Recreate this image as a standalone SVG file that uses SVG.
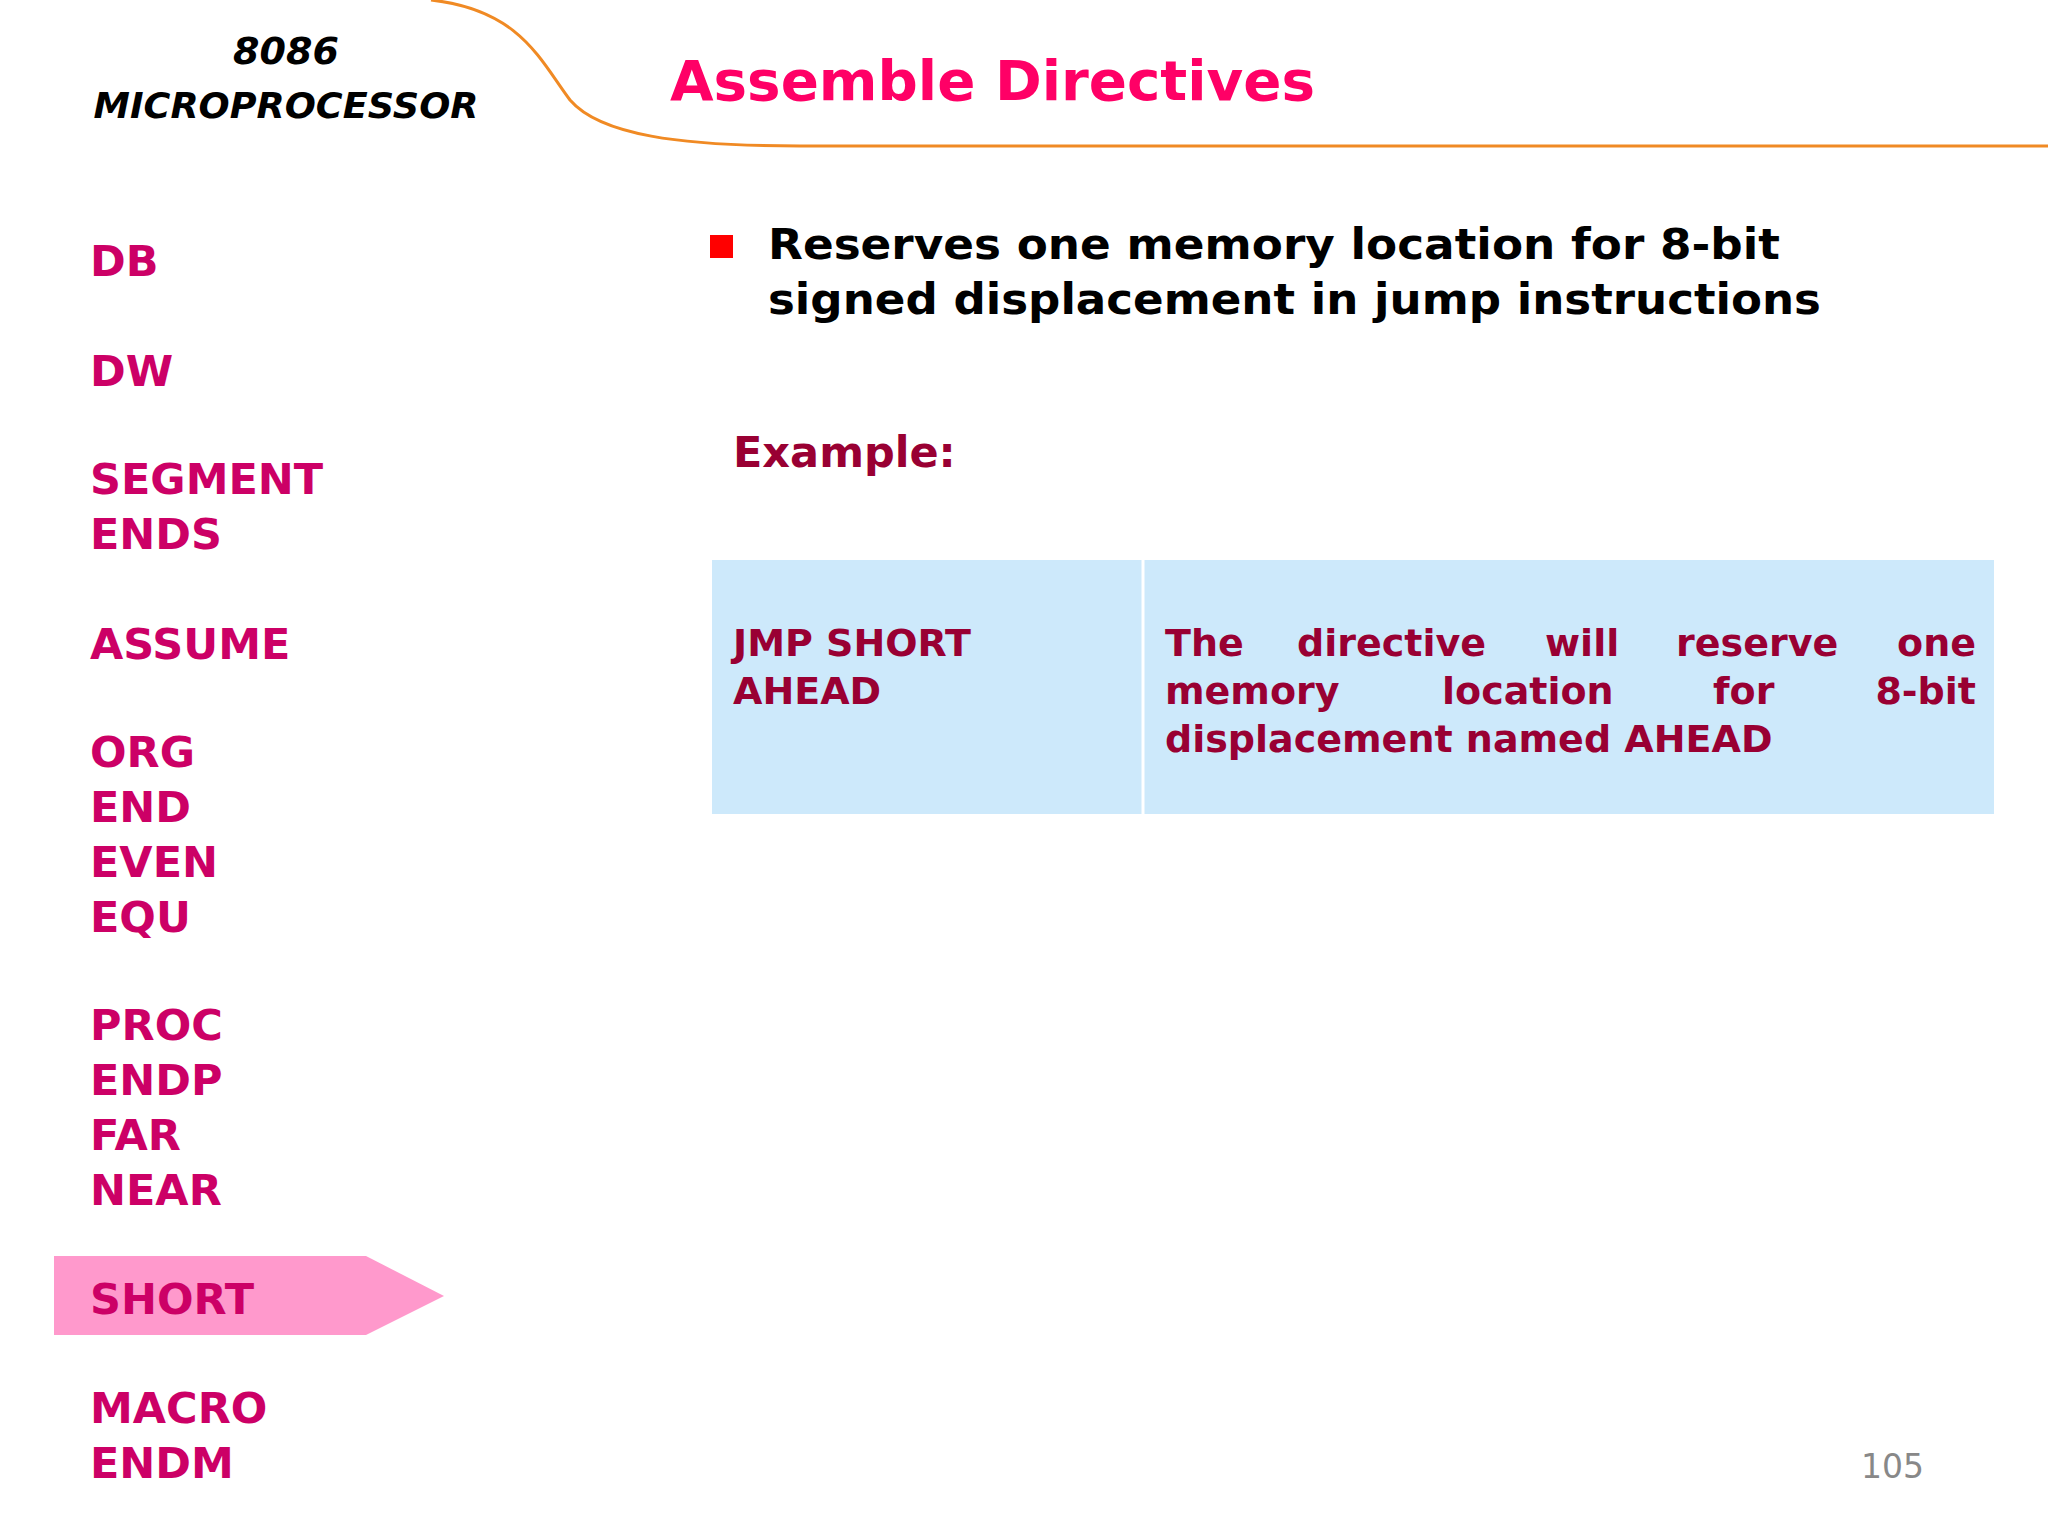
<svg xmlns="http://www.w3.org/2000/svg" width="2048" height="1536" viewBox="0 0 2048 1536">
<style>
.m{font-family:"DejaVu Sans",Verdana,sans-serif;font-weight:bold;font-size:43px;fill:#cc0066}
.b{font-family:"DejaVu Sans",Verdana,sans-serif;font-weight:bold;font-size:43px;fill:#000}
.c{font-family:"DejaVu Sans",Verdana,sans-serif;font-weight:bold;font-size:38px;fill:#990033}
.e{text-anchor:end}
</style>
<rect width="2048" height="1536" fill="#fff"/>
<g id="header">
<path d="M431,0 C520,10 540,60 570,100 C600,135 680,146 800,146 L2048,146" fill="none" stroke="#f08a24" stroke-width="3"/>
<text x="286" y="64" text-anchor="middle" font-family="DejaVu Sans, sans-serif" font-weight="bold" font-style="italic" font-size="38" fill="#000">8086</text>
<text x="286" y="118" text-anchor="middle" font-family="DejaVu Sans, sans-serif" font-weight="bold" font-style="italic" font-size="36" fill="#000" textLength="385" lengthAdjust="spacingAndGlyphs">MICROPROCESSOR</text>
<text x="670" y="100" font-family="DejaVu Sans, Verdana, sans-serif" font-weight="bold" font-size="55" fill="#ff0066" textLength="645" lengthAdjust="spacingAndGlyphs">Assemble Directives</text>
</g>
<g id="menu">
<polygon points="54,1256 366,1256 444,1296 366,1335 54,1335" fill="#ff99cc"/>
<text class="m" x="90" y="276">DB</text>
<text class="m" x="90" y="386">DW</text>
<text class="m" x="90" y="494">SEGMENT</text>
<text class="m" x="90" y="549">ENDS</text>
<text class="m" x="90" y="659">ASSUME</text>
<text class="m" x="90" y="767">ORG</text>
<text class="m" x="90" y="822">END</text>
<text class="m" x="90" y="877">EVEN</text>
<text class="m" x="90" y="932">EQU</text>
<text class="m" x="90" y="1040">PROC</text>
<text class="m" x="90" y="1095">ENDP</text>
<text class="m" x="90" y="1150">FAR</text>
<text class="m" x="90" y="1205">NEAR</text>
<text class="m" x="90" y="1314">SHORT</text>
<text class="m" x="90" y="1423">MACRO</text>
<text class="m" x="90" y="1478">ENDM</text>
</g>
<g id="bullet">
<rect x="710" y="235" width="23" height="23" fill="#ff0000"/>
<text class="b" x="768" y="259" textLength="1012" lengthAdjust="spacingAndGlyphs">Reserves one memory location for 8-bit</text>
<text class="b" x="768" y="314" textLength="1053" lengthAdjust="spacingAndGlyphs">signed displacement in jump instructions</text>
<text class="m" x="733" y="467" style="fill:#990033">Example:</text>
</g>
<g id="table">
<rect x="712" y="560" width="1282" height="254" fill="#cde9fb"/>
<line x1="1143" y1="560" x2="1143" y2="814" stroke="#fff" stroke-width="3"/>
<text class="c" x="733" y="656">JMP SHORT</text>
<text class="c" x="733" y="704">AHEAD</text>
<text class="c" x="1165" y="656">The</text>
<text class="c" x="1297" y="656">directive</text>
<text class="c" x="1545" y="656">will</text>
<text class="c" x="1676" y="656">reserve</text>
<text class="c e" x="1976" y="656">one</text>
<text class="c" x="1165" y="704">memory</text>
<text class="c" x="1442" y="704">location</text>
<text class="c" x="1713" y="704">for</text>
<text class="c e" x="1976" y="704">8-bit</text>
<text class="c" x="1165" y="752">displacement named AHEAD</text>
</g>
<text x="1924" y="1478" text-anchor="end" font-family="DejaVu Sans, sans-serif" font-size="33" fill="#888">105</text>
</svg>
